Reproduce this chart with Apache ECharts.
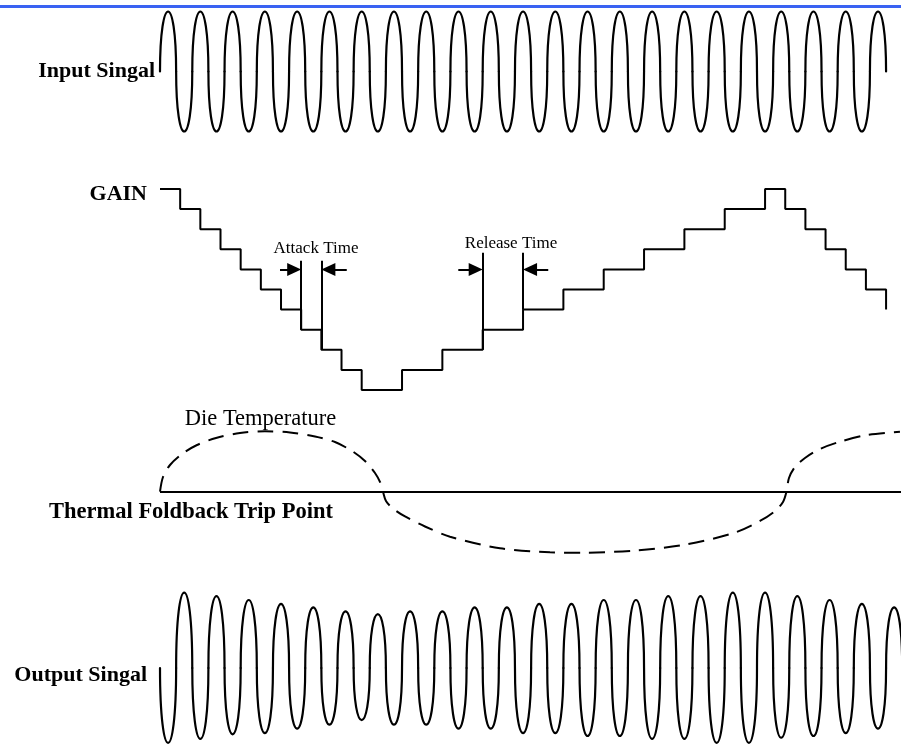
<!DOCTYPE html>
<html>
<head>
<meta charset="utf-8">
<script src="https://cdn.jsdelivr.net/npm/echarts@6/dist/echarts.min.js"></script>
<style>html,body{margin:0;padding:0;background:#fff}#c{width:901px;height:753px}</style>
</head>
<body>
<div id="c"></div>
<script>
// ---- data (time in gain-step units) ----
const timeMax = 36.74;
const halfPeriod = 0.8; // half of the sine period (period = 1.6)

// input signal: signed amplitude of each half cycle (V)
const inputAmp = [1,-1,1,-1,1,-1,1,-1,1,-1,1,-1,1,-1,1,-1,1,-1,1,-1,1,-1,1,-1,1,-1,1,-1,1,-1,1,-1,1,-1,1,-1,1,-1,1,-1,1,-1,1,-1,1];

// output signal: signed amplitude of each half cycle (V)
const outputAmp = [-1.32,1.33,-1.25,1.27,-1.17,1.2,-1.15,1.13,-1.07,1.07,-1.0,1.0,-0.92,0.95,-1.0,1.0,-1.0,1.0,-1.07,1.07,-1.07,1.07,-1.15,1.13,-1.15,1.13,-1.2,1.2,-1.2,1.2,-1.25,1.27,-1.25,1.27,-1.32,1.33,-1.32,1.33,-1.23,1.27,-1.2,1.2,-1.15,1.13,-1.07,1.07,-1.0];

// gain staircase
const gainTimes  = [0,1,2,3,4,5,6,7,8,9,10,12,14,16,18,20,22,24,26,28,30,31,32,33,34,35,36];
const gainLevels = [10,9,8,7,6,5,4,3,2,1,0,1,2,3,4,5,6,7,8,9,10,9,8,7,6,5,4];

// die temperature relative to the thermal foldback trip point
const tempTimes  = [0,0.149,0.496,1.091,1.835,2.777,3.966,5.206,6.445,7.685,8.677,9.52,10.164,10.66,10.933,11.057,11.205,11.553,12.148,13.139,14.379,16.858,19.337,20.973,23.452,25.931,28.41,29.748,30.492,30.889,31.062,31.186,31.484,31.979,32.723,33.715,35.037,36.688];
const tempValues = [0,2.45,4.45,6.28,7.78,8.95,9.78,10.07,9.87,9.2,8.28,6.78,5.12,3.12,1.45,0,-1.55,-2.8,-4.13,-5.8,-7.5,-9.43,-10.1,-10.17,-9.83,-8.88,-6.93,-4.88,-3.22,-1.72,0,2.28,4.12,5.62,7.12,8.33,9.45,10.0];
const tripPoint = 0;

// attack / release markers
const attackTimes = [7, 8];
const releaseTimes = [16, 18];

// ---- chart ----
const chart = echarts.init(document.getElementById('c'), null, {renderer: 'canvas'});
const plotWidth = 741;
const pxPerUnit = plotWidth / timeMax;

function halfCycles(amps) {
  return amps.map((a, i) => [i * halfPeriod, (i + 1) * halfPeriod, a]);
}
// each half cycle drawn as an arch with vertical tangents at the zero crossings
function renderHalfSine(params, api) {
  const t0 = api.value(0), t1 = api.value(1), a = api.value(2);
  const p0 = api.coord([t0, 0]);
  const p1 = api.coord([t1, 0]);
  const pk = api.coord([t0, a]);
  const yc = p0[1], dy = (pk[1] - yc) * 4 / 3;
  return {type: 'bezierCurve',
    shape: {x1: p0[0], y1: yc, cpx1: p0[0], cpy1: yc + dy, cpx2: p1[0], cpy2: yc + dy, x2: p1[0], y2: yc},
    style: {stroke: '#000', lineWidth: 2.2, fill: null, lineCap: 'round'}};
}

const xAx = i => ({type: 'value', gridIndex: i, min: 0, max: timeMax, show: false});
const serif = '"Liberation Serif", "Times New Roman", serif';
const lbl = (text, x, y, size, bold, align) => ({
  type: 'text', silent: true,
  style: {text, x, y, font: (bold ? 'bold ' : '') + size + 'px ' + serif, fill: '#000',
          align: align, textAlign: align, verticalAlign: 'middle', textVerticalAlign: 'middle'}
});

const markerStyle = {color: '#000', width: 2, type: 'solid'};
const arrowLen = 14;
const tipShift = (arrowLen / 2) / pxPerUnit;
const vline = (t, top, bottom) => [{coord: [t, top], symbol: 'none'}, {coord: [t, bottom], symbol: 'none'}];
const arrow = (from, to, lvl) => {
  const end = to - Math.sign(to - from) * tipShift;
  return [{coord: [from, lvl], symbol: 'none'}, {coord: [end, lvl], symbol: 'triangle', symbolSize: [13, arrowLen]}];
};

chart.setOption({
  animation: false,
  backgroundColor: '#fff',
  grid: [
    {left: 160, top: 5.5, width: plotWidth, height: 132},
    {left: 160, top: 189, width: plotWidth, height: 201},
    {left: 160, top: 419.7, width: plotWidth, height: 144},
    {left: 160, top: 583, width: plotWidth, height: 180}
  ],
  xAxis: [xAx(0), xAx(1), xAx(2), xAx(3)],
  yAxis: [
    {type: 'value', gridIndex: 0, min: -1.1, max: 1.1, show: false},
    {type: 'value', gridIndex: 1, min: 0, max: 10, show: false},
    {type: 'value', gridIndex: 2, min: -12, max: 12, show: false},
    {type: 'value', gridIndex: 3, min: -1.5, max: 1.5, show: false}
  ],
  graphic: [
    {type: 'rect', silent: true, shape: {x: 0, y: 5, width: 901, height: 3}, style: {fill: '#3a62f2'}},
    lbl('Input Singal', 155, 71.5, 22, true, 'right'),
    lbl('GAIN', 147, 194, 22, true, 'right'),
    lbl('Attack Time', 316, 249, 17, false, 'center'),
    lbl('Release Time', 511, 244, 17, false, 'center'),
    lbl('Die Temperature', 260.5, 419, 22.5, false, 'center'),
    lbl('Thermal Foldback Trip Point', 191, 512, 22.5, true, 'center'),
    lbl('Output Singal', 147, 675, 22, true, 'right')
  ],
  series: [
    {
      name: 'Input Singal', type: 'custom', xAxisIndex: 0, yAxisIndex: 0,
      renderItem: renderHalfSine, data: halfCycles(inputAmp), encode: {x: [0, 1], y: 2}, silent: true
    },
    {
      name: 'GAIN', type: 'line', xAxisIndex: 1, yAxisIndex: 1, step: 'end', showSymbol: false, symbol: 'none',
      data: gainTimes.map((t, i) => [t, gainLevels[i]]),
      lineStyle: {color: '#000', width: 2}, clip: false, silent: true,
      markLine: {
        silent: true, animation: false, label: {show: false}, lineStyle: markerStyle, symbol: ['none', 'none'],
        data: [
          vline(attackTimes[0], 6.43, 3), vline(attackTimes[1], 6.43, 2),
          vline(releaseTimes[0], 6.83, 2), vline(releaseTimes[1], 6.83, 4),
          arrow(5.95, attackTimes[0], 6), arrow(9.26, attackTimes[1], 6),
          arrow(14.79, releaseTimes[0], 6), arrow(19.25, releaseTimes[1], 6)
        ]
      }
    },
    {
      name: 'Die Temperature', type: 'line', xAxisIndex: 2, yAxisIndex: 2, smooth: 0.3,
      showSymbol: false, symbol: 'none', clip: false, silent: true,
      data: tempTimes.map((t, i) => [t, tempValues[i]]),
      lineStyle: {color: '#000', width: 2, type: [16, 9]},
      markLine: {
        silent: true, symbol: ['none', 'none'], label: {show: false},
        lineStyle: {color: '#000', width: 2, type: 'solid'},
        data: [{yAxis: tripPoint}]
      }
    },
    {
      name: 'Output Singal', type: 'custom', xAxisIndex: 3, yAxisIndex: 3,
      renderItem: renderHalfSine, data: halfCycles(outputAmp), encode: {x: [0, 1], y: 2}, silent: true
    }
  ]
});
</script>
</body>
</html>
